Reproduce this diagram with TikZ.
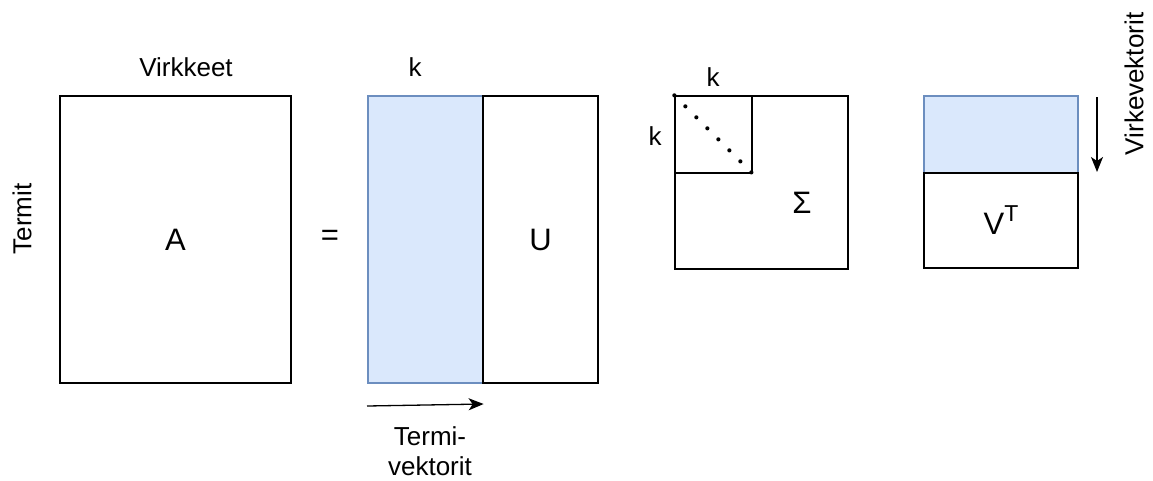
\documentclass[tikz,border=0pt]{standalone}
\usepackage{fontspec}
\setmainfont{Liberation Sans}
\usetikzlibrary{arrows.meta}
\definecolor{bfill}{HTML}{DAE8FC}
\definecolor{bline}{HTML}{6C8EBF}
\begin{document}
\begin{tikzpicture}[x=1pt,y=-1pt,
  mat/.style={draw=black,line width=1.3pt,fill=white,inner sep=0pt,minimum width=#1},
  bluemat/.style={draw=bline,line width=1.3pt,fill=bfill,inner sep=0pt,minimum width=#1},
  lbl/.style={font=\fontsize{26}{30}\selectfont,inner sep=0pt},
  big/.style={font=\fontsize{31}{36}\selectfont},
  arr/.style={line width=1.3pt,-{Stealth[length=15pt,width=12pt,inset=4pt]}}]
\useasboundingbox (0,0) rectangle (1153,480);
% A
\node[mat=231pt,minimum height=287pt,big] (A) at (175.5,239.5) {A};
\node[lbl] (virk) at (186,67) {Virkkeet};
\node[lbl,rotate=90] (termit) at (22,219) {Termit};
\node[big,inner sep=0pt] (eq) at (330,238) {=};
% U
\node[bluemat=115pt,minimum height=287pt] (Ub) at (425.5,239.5) {};
\node[mat=115pt,minimum height=287pt,big] (Uw) at (540.5,239.5) {U};
\node[lbl] (ku) at (415,67) {k};
\coordinate (ts) at (367,406);
\draw[arr] (ts) -- (Ub.south east |- 0,404);
\node[lbl,align=center] (tv) at (430,451) {Termi-\\[0pt]vektorit};
% Sigma
\node[mat=173pt,minimum height=173pt] (S) at (761.5,182.5) {};
\node[mat=77pt,minimum height=77pt] (Sk) at (713.5,134.5) {};
\draw[line width=4.2pt,line cap=round,dash pattern=on 0pt off 15.56pt] (Sk.north west) -- (Sk.south east);
\node[big,inner sep=0pt] (sig) at (802,203) {Σ};
\node[lbl] (k1) at (713,77) {k};
\node[lbl] (k2) at (655,136) {k};
% V^T
\node[bluemat=154pt,minimum height=77pt] (Vb) at (1001,134.5) {};
\node[mat=154pt,minimum height=95pt,big] (Vw) at (1001,220.5) {V\raisebox{0.42em}{\fontsize{23}{27}\selectfont T}};
\coordinate (vs) at (1097,97);
\coordinate (ve) at (1097,172);
\draw[arr] (vs) -- (ve);
\node[lbl,rotate=90] (vv) at (1134,84) {Virkevektorit};
\end{tikzpicture}
\end{document}
